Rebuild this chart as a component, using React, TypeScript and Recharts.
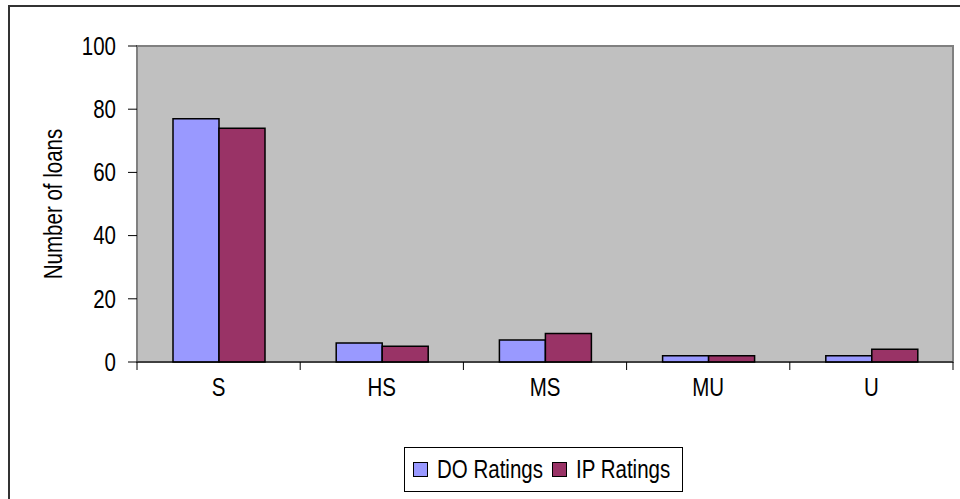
import React from "react";
import { BarChart, Bar, XAxis, YAxis, CartesianGrid, Legend, ReferenceArea } from "recharts";

const CATEGORIES = ["S", "HS", "MS", "MU", "U"];
const DO_RATINGS = [77, 6, 7, 2, 2];
const IP_RATINGS = [74, 5, 9, 2, 4];
const Y_TICKS = [0, 20, 40, 60, 80, 100];

const FONT = "'Liberation Sans', Arial, sans-serif";
const NARROW = 0.82; // no narrow font installed, squeeze Arial instead
const DO_COLOR = "#9999FF";
const IP_COLOR = "#993366";

const chartData = CATEGORIES.map((c, i) => ({ name: c, do: DO_RATINGS[i], ip: IP_RATINGS[i] }));

const W = 950;
const H = 492;
const margin = { top: 39, right: 7, bottom: 0, left: 0 };
const Y_WIDTH = 127;
const BAND = (W - Y_WIDTH - margin.right) / CATEGORIES.length;
const X_TICK = 8;
const X_MARGIN = 8;

function NarrowText({ x, y, anchor, dy, rotate, children }: any) {
  return (
    <g transform={`translate(${x},${y})${rotate ? " rotate(-90)" : ""} scale(${NARROW},1)`}>
      <text x={0} y={0} dy={dy} textAnchor={anchor} fontSize={25} fontFamily={FONT} fill="#000">
        {children}
      </text>
    </g>
  );
}

// category labels in the middle, tick marks on the band edges (Excel style)
function CatTick(props: any) {
  const { x, y, payload, index } = props;
  const axisY = y - X_TICK - X_MARGIN;
  return (
    <g>
      <line x1={x - BAND / 2} x2={x - BAND / 2} y1={axisY} y2={axisY + X_TICK} stroke="#000" />
      {index === CATEGORIES.length - 1 && (
        <line x1={x + BAND / 2} x2={x + BAND / 2} y1={axisY} y2={axisY + X_TICK} stroke="#000" />
      )}
      <NarrowText x={x} y={y} dy="0.71em" anchor="middle">{payload.value}</NarrowText>
    </g>
  );
}

function ValueTick(props: any) {
  const { x, y, payload } = props;
  return <NarrowText x={x} y={y} dy="0.355em" anchor="end">{payload.value}</NarrowText>;
}

function LegendBox() {
  const sw = (color: string, left: number) => (
    <span style={{ position: "absolute", left, top: 14, width: 13, height: 13, background: color, border: "1px solid #000" }} />
  );
  const txt = (label: string, left: number) => (
    <span style={{ position: "absolute", left, top: 7, whiteSpace: "nowrap", transform: `scaleX(${NARROW})`, transformOrigin: "left center", lineHeight: "29px" }}>
      {label}
    </span>
  );
  return (
    <div
      style={{
        position: "relative", boxSizing: "border-box", width: 279, height: 45, border: "1px solid #000",
        fontFamily: FONT, fontSize: 25, color: "#000", background: "#fff",
      }}
    >
      {sw(DO_COLOR, 8)}
      {txt("DO Ratings", 32)}
      {sw(IP_COLOR, 147)}
      {txt("IP Ratings", 171)}
    </div>
  );
}

function YLabel(props: any) {
  const { viewBox } = props;
  return (
    <NarrowText x={52} y={viewBox.y + viewBox.height / 2} anchor="middle" rotate>
      Number of loans
    </NarrowText>
  );
}

export default function App() {
  return (
    <div
      style={{
        position: "fixed", left: 8, top: 5, width: 952, height: 494, boxSizing: "border-box",
        borderLeft: "2px solid #333", borderTop: "2px solid #333", background: "#fff",
      }}
    >
      <BarChart width={W} height={H} data={chartData} margin={margin} barGap={0}>
        <ReferenceArea y1={0} y2={100} fill="#C0C0C0" fillOpacity={1} stroke="#808080" strokeWidth={2} />
        <CartesianGrid vertical={false} horizontalValues={[20, 40, 60, 80]} stroke="#000" strokeOpacity={1} />
        <XAxis
          dataKey="name" height={92} tickLine={false} tickSize={X_TICK} tickMargin={X_MARGIN}
          axisLine={{ stroke: "#000" }} tick={<CatTick />} interval={0}
        />
        <YAxis
          width={Y_WIDTH} domain={[0, 100]} ticks={Y_TICKS} interval={0}
          axisLine={false} tickLine={{ stroke: "#000" }} tickSize={9} tickMargin={12}
          tick={<ValueTick />}
          label={<YLabel />}
        />
        <Legend
          content={<LegendBox />}
          wrapperStyle={{ left: 394, top: 440, bottom: "auto", width: 279 }}
        />
        <Bar dataKey="do" name="DO Ratings" fill={DO_COLOR} stroke="#000" strokeWidth={1.5} barSize={46} isAnimationActive={false} />
        <Bar dataKey="ip" name="IP Ratings" fill={IP_COLOR} stroke="#000" strokeWidth={1.5} barSize={46} isAnimationActive={false} />
      </BarChart>
    </div>
  );
}
